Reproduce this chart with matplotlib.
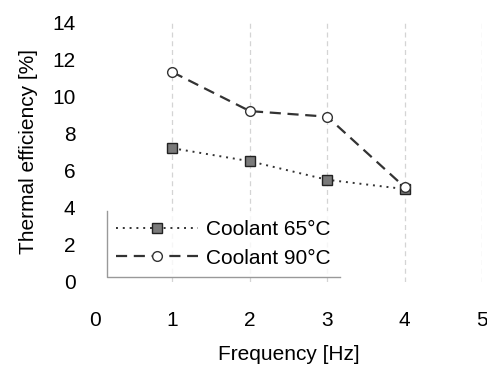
import numpy as np
import matplotlib
matplotlib.use('Agg')
import matplotlib.pyplot as plt
from matplotlib.lines import Line2D

plt.rcParams['font.family'] = ['Liberation Sans', 'DejaVu Sans']

# data
freq = [1, 2, 3, 4]
eff_65 = [7.2, 6.5, 5.5, 5.0]
eff_90 = [11.3, 9.2, 8.9, 5.1]
x_ticks = [0, 1, 2, 3, 4, 5]
y_ticks = [0, 2, 4, 6, 8, 10, 12, 14]

fig = plt.figure(figsize=(4.87, 3.67), dpi=100)
ax = fig.add_axes([0.195, 0.232, 0.795, 0.708])

ax.plot(freq, eff_65, linestyle=(0, (1, 2.5)), color='#333333', linewidth=1.4,
        marker='s', markersize=7, markerfacecolor='#7a7a7a',
        markeredgecolor='#222222', label='Coolant 65°C')
ax.plot(freq, eff_90, linestyle=(0, (5, 3)), color='#333333', linewidth=1.6,
        marker='o', markersize=7, markerfacecolor='white',
        markeredgecolor='#333333', label='Coolant 90°C')

ax.set_xlim(0, 5)
ax.set_ylim(0, 14)
ax.set_xticks(x_ticks)
ax.set_yticks(y_ticks)
ax.tick_params(axis='x', length=0, pad=21, labelsize=15)
ax.tick_params(axis='y', length=0, pad=14, labelsize=15)
for s in ax.spines.values():
    s.set_visible(False)

# light dashed vertical grid (none at x=0)
ax.vlines(x_ticks[1:], 0, 14, linestyles=(0, (4, 3)), colors='#d4d4d4',
          linewidth=0.9, zorder=0)

ax.set_xlabel('Frequency [Hz]', fontsize=15, labelpad=11)
ax.set_ylabel('Thermal efficiency [%]', fontsize=15, labelpad=10)

leg = ax.legend(loc='lower left', bbox_to_anchor=(0.031, 0.019), fontsize=15,
                handlelength=3.9, handletextpad=0.4, frameon=True,
                fancybox=False, borderaxespad=0, labelspacing=0.45,
                borderpad=0.45)
leg.get_frame().set_edgecolor('none')

# only the left and bottom edges of the legend box are visible
fig.canvas.draw()
bb = leg.get_window_extent().transformed(fig.transFigure.inverted())
fig.add_artist(Line2D([bb.x0, bb.x0, bb.x1], [bb.y1, bb.y0, bb.y0],
                      transform=fig.transFigure, color='#999999', linewidth=1.0))

fig.savefig('out.png', dpi=100)
